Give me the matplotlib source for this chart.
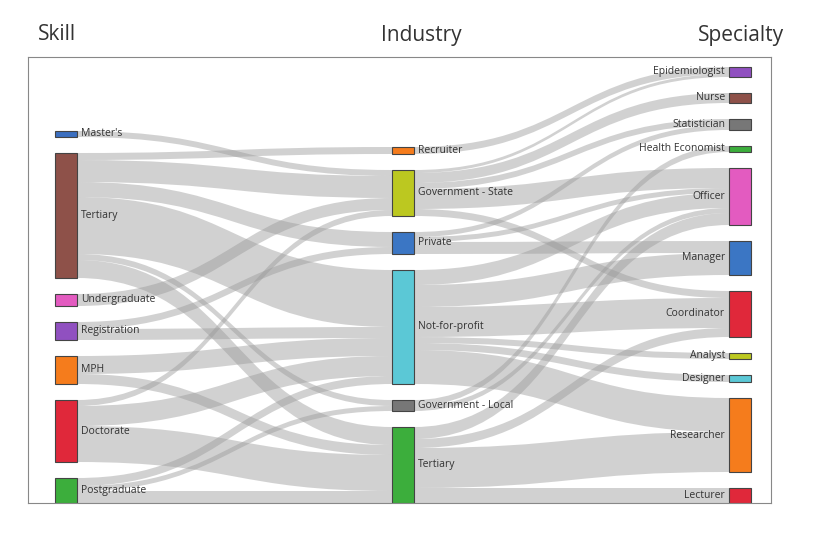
import matplotlib
matplotlib.use("Agg")
import matplotlib.pyplot as plt
from matplotlib.path import Path
from matplotlib.patches import PathPatch, Rectangle

plt.rcParams['font.family'] = ['Open Sans', 'DejaVu Sans']

# columns of nodes, top to bottom
skills = ["Master's", "Tertiary", "Undergraduate", "Registration", "MPH", "Doctorate", "Postgraduate"]
industries = ["Recruiter", "Government - State", "Private", "Not-for-profit", "Government - Local", "Tertiary"]
specialties = ["Epidemiologist", "Nurse", "Statistician", "Health Economist", "Officer", "Manager",
               "Coordinator", "Analyst", "Designer", "Researcher", "Lecturer"]

skill_colors = ["#3b6fc0", "#8e5149", "#e35bc0", "#9050c0", "#f57c1c", "#e0283a", "#3cae3c"]
industry_colors = ["#f57c1c", "#bcc820", "#3b76c4", "#5bc8d6", "#777777", "#3cae3c"]
specialty_colors = ["#9050c0", "#8e5149", "#777777", "#3cae3c", "#e35bc0", "#3b76c4",
                    "#e0283a", "#bcc820", "#5bc8d6", "#f57c1c", "#e0283a"]

# (source, target, value)
skill_to_industry = [
    ("Master's", "Government - State", 6),
    ("Tertiary", "Recruiter", 7),
    ("Tertiary", "Government - State", 22),
    ("Tertiary", "Private", 15),
    ("Tertiary", "Not-for-profit", 57),
    ("Tertiary", "Government - Local", 6),
    ("Tertiary", "Tertiary", 18),
    ("Undergraduate", "Government - State", 12),
    ("Registration", "Private", 7),
    ("Registration", "Not-for-profit", 11),
    ("MPH", "Not-for-profit", 18),
    ("MPH", "Tertiary", 10),
    ("Doctorate", "Government - State", 6),
    ("Doctorate", "Not-for-profit", 20),
    ("Doctorate", "Tertiary", 36),
    ("Postgraduate", "Not-for-profit", 8),
    ("Postgraduate", "Government - Local", 5),
    ("Postgraduate", "Tertiary", 12),
]
industry_to_specialty = [
    ("Recruiter", "Epidemiologist", 7),
    ("Government - State", "Epidemiologist", 3),
    ("Government - State", "Nurse", 10),
    ("Government - State", "Statistician", 6),
    ("Government - State", "Officer", 20),
    ("Government - State", "Coordinator", 7),
    ("Private", "Statistician", 5),
    ("Private", "Officer", 5),
    ("Private", "Manager", 12),
    ("Not-for-profit", "Officer", 15),
    ("Not-for-profit", "Manager", 22),
    ("Not-for-profit", "Coordinator", 30),
    ("Not-for-profit", "Analyst", 6),
    ("Not-for-profit", "Designer", 7),
    ("Not-for-profit", "Researcher", 34),
    ("Government - Local", "Health Economist", 6),
    ("Government - Local", "Officer", 5),
    ("Tertiary", "Officer", 12),
    ("Tertiary", "Coordinator", 9),
    ("Tertiary", "Researcher", 40),
    ("Tertiary", "Lecturer", 15),
]

columns = [skills, industries, specialties]
colors = [skill_colors, industry_colors, specialty_colors]
links = [skill_to_industry, industry_to_specialty]
col_x = [55, 392, 729]
node_w = 22
gap = 16
bottom = 503

# node sizes
sizes = []
for ci, names in enumerate(columns):
    s = {}
    for n in names:
        out_v = sum(v for a, b, v in links[ci] if a == n) if ci < 2 else 0
        in_v = sum(v for a, b, v in links[ci - 1] if b == n) if ci > 0 else 0
        s[n] = max(out_v, in_v)
    sizes.append(s)

# bottom-aligned layout
tops = []
for ci, names in enumerate(columns):
    total = sum(sizes[ci].values()) + gap * (len(names) - 1)
    y = bottom - total
    t = {}
    for n in names:
        t[n] = y
        y += sizes[ci][n] + gap
    tops.append(t)

fig = plt.figure(figsize=(8.29, 5.37), dpi=100)
ax = fig.add_axes([28 / 829, 1 - 503 / 537, (771 - 28) / 829, (503 - 57) / 537])
ax.set_xlim(28, 771)
ax.set_ylim(503, 57)
ax.set_xticks([])
ax.set_yticks([])
for sp in ax.spines.values():
    sp.set_color("#888888")
    sp.set_linewidth(0.8)

# links
for ci, lk in enumerate(links):
    src_names, dst_names = columns[ci], columns[ci + 1]
    out_off = {n: tops[ci][n] for n in src_names}
    in_off = {n: tops[ci + 1][n] for n in dst_names}
    out_sorted = sorted(lk, key=lambda l: (src_names.index(l[0]), dst_names.index(l[1])))
    y_out = {}
    for a, b, v in out_sorted:
        y_out[(a, b)] = out_off[a]
        out_off[a] += v
    in_sorted = sorted(lk, key=lambda l: (dst_names.index(l[1]), src_names.index(l[0])))
    y_in = {}
    for a, b, v in in_sorted:
        y_in[(a, b)] = in_off[b]
        in_off[b] += v
    x0 = col_x[ci] + node_w
    x1 = col_x[ci + 1]
    xm = (x0 + x1) / 2
    for a, b, v in lk:
        s0 = y_out[(a, b)]
        t0 = y_in[(a, b)]
        verts = [(x0, s0), (xm, s0), (xm, t0), (x1, t0),
                 (x1, t0 + v), (xm, t0 + v), (xm, s0 + v), (x0, s0 + v), (x0, s0)]
        codes = [Path.MOVETO, Path.CURVE4, Path.CURVE4, Path.CURVE4,
                 Path.LINETO, Path.CURVE4, Path.CURVE4, Path.CURVE4, Path.CLOSEPOLY]
        ax.add_patch(PathPatch(Path(verts, codes), facecolor="#9a9a9a", edgecolor="none",
                               alpha=0.45, zorder=1))

# nodes and labels
for ci, names in enumerate(columns):
    for ni, n in enumerate(names):
        y = tops[ci][n]
        h = sizes[ci][n]
        ax.add_patch(Rectangle((col_x[ci], y), node_w, h, facecolor=colors[ci][ni],
                               edgecolor="#444444", linewidth=0.8, zorder=2))
        if ci < 2:
            ax.text(col_x[ci] + node_w + 4, y + h / 2, n, ha="left", va="center",
                    fontsize=7.5, color="#333333", zorder=3, clip_on=True)
        else:
            ax.text(col_x[ci] - 4, y + h / 2, n, ha="right", va="center",
                    fontsize=7.5, color="#333333", zorder=3, clip_on=True)

for title, x in zip(["Skill", "Industry", "Specialty"], [57, 421, 741]):
    fig.text(x / 829, 1 - 35 / 537, title, ha="center", va="center", fontsize=15, color="#333333")

fig.savefig("out.png", dpi=100)
